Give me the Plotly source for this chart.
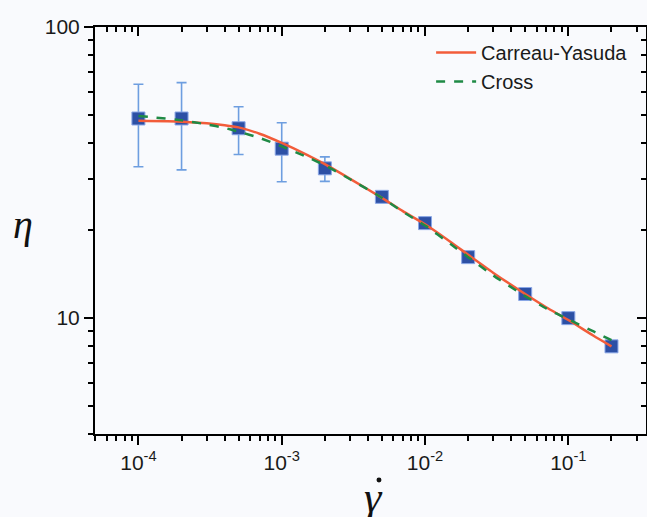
import plotly.graph_objects as go

# ---- data ----
shear_rate = [1e-4, 2e-4, 5e-4, 1e-3, 2e-3, 5e-3, 1e-2, 2e-2, 5e-2, 1e-1, 2e-1]
viscosity = [48.5, 48.5, 44.9, 38.2, 32.7, 26.1, 21.2, 16.2, 12.1, 10.0, 8.0]
err_upper = [63.6, 64.4, 53.2, 46.9, 35.8, None, None, None, None, None, None]
err_lower = [33.1, 32.3, 36.5, 29.4, 29.5, None, None, None, None, None, None]

fit_x = [1e-4, 2e-4, 3e-4, 4e-4, 5e-4, 7e-4, 1e-3, 1.5e-3, 2e-3, 3e-3, 5e-3,
         7e-3, 1e-2, 1.5e-2, 2e-2, 3e-2, 5e-2, 7e-2, 1e-1, 1.5e-1, 2e-1]
carreau_yasuda = [47.6, 47.3, 46.7, 46.0, 45.2, 43.0, 40.0, 36.4, 33.8, 30.1, 25.9,
                  23.3, 21.0, 18.3, 16.5, 14.3, 12.1, 10.9, 9.85, 8.7, 8.0]
cross = [49.5, 47.8, 46.3, 45.0, 43.7, 41.6, 38.9, 35.8, 33.5, 30.0, 25.9,
         23.2, 20.8, 18.0, 16.2, 14.0, 11.9, 10.8, 9.9, 9.0, 8.4]

x_ticks = [1e-4, 1e-3, 1e-2, 1e-1]
x_ticktext = ["10<sup>-4</sup>", "10<sup>-3</sup>", "10<sup>-2</sup>", "10<sup>-1</sup>"]
y_ticks = [10, 100]
y_ticktext = ["10", "100"]

# ---- derived arrays ----
err_plus = [(u - v) if u is not None else 0 for u, v in zip(err_upper, viscosity)]
err_minus = [(v - l) if l is not None else 0 for l, v in zip(err_lower, viscosity)]
x_minor = [k * 10.0 ** e for e in range(-5, 0) for k in range(2, 10)]
y_minor = [k * 10.0 ** e for e in range(0, 2) for k in range(2, 10)]

BG = "#f9fafd"
FONT = "Liberation Sans, Arial, sans-serif"
XR = [-4.303, -0.458]
YR = [0.602, 2.0]

fig = go.Figure()

fig.add_trace(go.Scatter(
    x=shear_rate, y=viscosity, mode="markers", showlegend=False,
    marker=dict(symbol="square", size=13, color="#2d50a5",
                line=dict(color="#8aa6e6", width=1)),
    error_y=dict(type="data", symmetric=False, array=err_plus, arrayminus=err_minus,
                 color="#6e9ee0", thickness=1.6, width=5),
))

fig.add_trace(go.Scatter(
    x=fit_x, y=carreau_yasuda, mode="lines", name="Carreau-Yasuda",
    line=dict(color="#f25c3a", width=2.5, shape="spline", smoothing=0.5),
))
fig.add_trace(go.Scatter(
    x=fit_x, y=cross, mode="lines", name="Cross",
    line=dict(color="#1f8a45", width=2.5, dash="dash", shape="spline", smoothing=0.5),
))

# helper trace for mirrored axes
fig.add_trace(go.Scatter(x=[1e-3], y=[20], xaxis="x2", yaxis="y2", mode="markers",
                         marker=dict(opacity=0), showlegend=False, hoverinfo="skip"))

axis_common = dict(type="log", showgrid=False, zeroline=False, showline=True,
                   linecolor="black", linewidth=2, tickcolor="black", tickwidth=2,
                   ticklen=9)


def minor(vals, side):
    return dict(tickmode="array", tickvals=vals, ticks=side, ticklen=5, tickwidth=1.5,
                tickcolor="black", showgrid=False)


fig.update_layout(
    width=647, height=517,
    margin=dict(l=95, r=1, t=27, b=83),
    paper_bgcolor=BG, plot_bgcolor=BG,
    font=dict(family=FONT, color="#1a1a1a"),
    xaxis=dict(**axis_common, range=XR, ticks="outside", tickmode="array",
               tickvals=x_ticks, ticktext=x_ticktext, tickfont=dict(size=21, family=FONT),
               minor=minor(x_minor, "outside")),
    yaxis=dict(**axis_common, range=YR, ticks="outside", tickmode="array",
               tickvals=y_ticks, ticktext=y_ticktext, tickfont=dict(size=21, family=FONT),
               minor=minor(y_minor, "outside")),
    xaxis2=dict(**axis_common, range=XR, overlaying="x", side="top", anchor="y",
                ticks="inside", tickmode="array", tickvals=x_ticks, showticklabels=False,
                minor=minor(x_minor, "inside")),
    yaxis2=dict(**axis_common, range=YR, overlaying="y", side="right", anchor="x",
                ticks="inside", tickmode="array", tickvals=y_ticks, showticklabels=False,
                minor=minor(y_minor, "inside")),
    legend=dict(x=0.61, y=0.985, xanchor="left", yanchor="top",
                bgcolor="rgba(0,0,0,0)", font=dict(size=20, family=FONT),
                tracegroupgap=0, itemwidth=40),
    showlegend=True,
)

fig.add_annotation(text="<i>η</i>", xref="paper", yref="paper", x=-0.152, y=0.515,
                   showarrow=False, font=dict(size=40, family="Liberation Serif, serif",
                                              color="#111"))
fig.add_annotation(text="<i>γ</i>", xref="paper", yref="paper", x=0.505, y=-0.155,
                   showarrow=False, yanchor="middle",
                   font=dict(size=44, family="Liberation Serif, serif", color="#111"))
# the dot of the "gamma-dot" symbol
fig.add_shape(type="circle", xref="paper", yref="paper",
              x0=0.5154 - 0.0045, x1=0.5154 + 0.0045,
              y0=-0.113 - 0.006, y1=-0.113 + 0.006,
              fillcolor="#111", line=dict(width=0))

fig.write_html("out.html")
